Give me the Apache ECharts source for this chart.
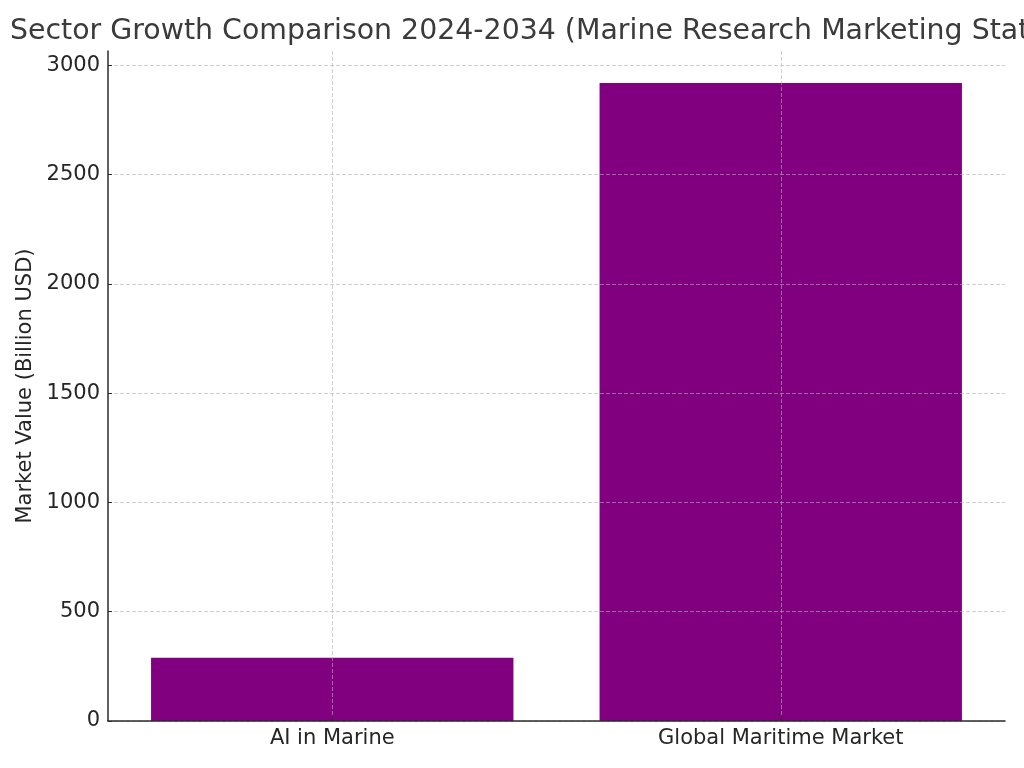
<!DOCTYPE html>
<html>
<head>
<meta charset="utf-8">
<script src="https://cdn.jsdelivr.net/npm/echarts@6/dist/echarts.min.js"></script>
<style>
  html, body { margin: 0; padding: 0; background: #ffffff; }
  #chart { width: 1024px; height: 768px; }
</style>
</head>
<body>
<div id="chart"></div>
<script>
// 数据
const CATEGORIES = ['AI in Marine', 'Global Maritime Market'];
const MARKET_VALUES = [290, 2920];
const Y_TICKS = [0, 500, 1000, 1500, 2000, 2500, 3000];
const TITLE = 'Sector Growth Comparison 2024-2034 (Marine Research Marketing Statistics)';
const Y_NAME = 'Market Value (Billion USD)';

const FONT = '"DejaVu Sans", Verdana, sans-serif';
const INK = '#262626';
const GRID_COLOR = 'rgba(176, 176, 176, 0.6)';
const SPINE = { lineStyle: { color: '#2b2b2b', width: 1.5 } };

// matplotlib 的默认上边距：最大值再放 5%
const yMax = Math.max(...MARKET_VALUES) * 1.05;

const chart = echarts.init(document.getElementById('chart'), null, { renderer: 'canvas' });
chart.setOption({
  animation: false,
  backgroundColor: '#ffffff',
  title: {
    text: TITLE,
    left: 5,
    top: 13,
    textStyle: { fontFamily: FONT, fontSize: 28.4, fontWeight: 'normal', color: '#3b3b3b' },
  },
  grid: { left: 108, right: 19, top: 51, bottom: 47 },
  xAxis: {
    type: 'category',
    data: CATEGORIES,
    z: 3,
    axisLine: SPINE,
    axisTick: { show: true, inside: true, length: 4, alignWithLabel: true, lineStyle: { color: '#2b2b2b' } },
    axisLabel: { fontFamily: FONT, fontSize: 21, color: INK, margin: 7 },
    splitLine: { show: true, alignWithLabel: true, lineStyle: { color: GRID_COLOR, width: 1, type: [4, 2] } },
  },
  yAxis: {
    type: 'value',
    min: 0,
    max: yMax,
    interval: 500,
    z: 3,
    name: Y_NAME,
    nameLocation: 'middle',
    nameGap: 67,
    nameTextStyle: { fontFamily: FONT, fontSize: 21, color: INK },
    axisLine: { show: true, ...SPINE },
    axisTick: { show: true, inside: true, length: 4, customValues: Y_TICKS, lineStyle: { color: '#2b2b2b' } },
    axisLabel: {
      fontFamily: FONT, fontSize: 21, color: INK, margin: 8,
      customValues: Y_TICKS,
      formatter: (v) => String(v),
    },
    splitLine: {
      show: true,
      lineStyle: {
        // 最后一条（轴顶端 yMax 处）不画
        color: Y_TICKS.map(() => GRID_COLOR).concat(['transparent']),
        width: 1,
        type: [4, 2],
      },
    },
  },
  series: [{
    type: 'bar',
    data: MARKET_VALUES,
    barWidth: '80.8%',
    z: 1,
    itemStyle: { color: '#800080' },
  }],
});
</script>
</body>
</html>
